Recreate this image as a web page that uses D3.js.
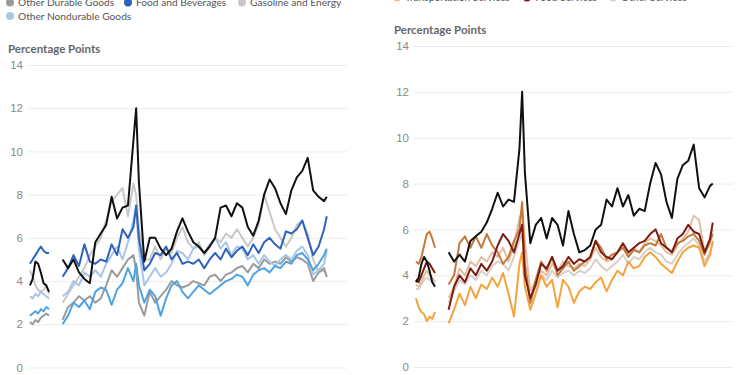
<!DOCTYPE html>
<html>
<head>
<meta charset="utf-8">
<script src="https://cdn.jsdelivr.net/npm/d3@7"></script>
<style>
  body { margin: 0; background: #fff; }
  svg { display: block; font-family: Lato, "Noto Sans", sans-serif; }
</style>
</head>
<body>
<div id="chart"></div>
<script>
// ---------------------------------------------------------------
// DATA (percentage points), weekly first stretch, then every 2 weeks
// ---------------------------------------------------------------
const dates = [
  "2020-06-28","2020-07-05","2020-07-12","2020-07-19","2020-07-26","2020-08-02","2020-08-09","2020-08-16",
  "2020-09-01",
  "2020-09-20","2020-10-04","2020-10-18","2020-11-01","2020-11-15","2020-11-29","2020-12-13","2020-12-27",
  "2021-01-10","2021-01-24","2021-02-07","2021-02-21","2021-03-07","2021-03-21","2021-03-28","2021-04-04",
  "2021-04-18","2021-05-02","2021-05-16","2021-05-30","2021-06-13","2021-06-27","2021-07-11","2021-07-25",
  "2021-08-08","2021-08-22","2021-09-05","2021-09-19","2021-10-03","2021-10-17","2021-10-31","2021-11-14",
  "2021-11-28","2021-12-12","2021-12-26","2022-01-09","2022-01-23","2022-02-06","2022-02-20","2022-03-06",
  "2022-03-20","2022-04-03","2022-04-17","2022-05-01","2022-05-15","2022-05-29","2022-06-12","2022-06-26",
  "2022-07-10","2022-07-24","2022-07-31"
]

// goods panel
const goods_total = [3.8,4.1,4.9,4.8,4.4,3.9,3.8,3.5, null,
  5.0,4.6,5.0,4.4,4.1,3.9,5.8,6.2,6.6,7.9,6.9,7.4,7.5,10.5,12.0,8.6,4.9,6.0,6.0,5.5,5.2,5.5,6.3,6.9,6.3,5.8,
  5.6,5.3,5.6,6.0,7.4,7.5,7.0,7.6,7.4,6.5,6.1,6.8,8.0,8.7,8.3,7.6,7.1,8.2,8.8,9.1,9.7,8.2,7.9,7.7,7.9]
const other_durable = [2.1,2.0,2.2,2.1,2.3,2.4,2.5,2.4, null,
  2.2,2.8,3.0,3.3,3.1,3.3,3.0,3.2,3.8,4.5,4.2,4.6,5.0,5.2,4.5,3.0,2.4,3.5,3.0,3.3,3.6,4.0,3.8,3.7,3.8,4.0,
  3.9,3.8,4.2,4.3,4.0,4.3,4.4,4.6,4.7,4.4,4.8,4.6,5.0,4.8,4.9,4.8,5.1,4.9,5.1,5.0,4.8,4.0,4.4,4.6,4.2]
const food_bev = [4.8,5.0,5.2,5.4,5.6,5.4,5.3,5.3, null,
  4.2,4.6,5.2,4.7,5.7,4.9,4.8,5.0,4.9,5.7,5.2,6.4,6.0,6.5,7.5,6.0,4.5,4.8,5.3,5.2,5.6,5.0,5.3,4.8,4.9,4.8,
  5.0,4.6,5.0,5.3,5.0,5.5,5.1,5.4,5.6,5.2,5.7,5.3,5.8,6.0,5.7,5.5,6.3,6.2,6.4,6.8,6.0,5.2,5.6,6.4,7.0]
const gas_energy = [4.5,4.2,3.8,3.6,3.5,3.6,3.8,3.4, null,
  3.0,3.4,3.8,4.2,4.6,5.2,5.6,6.0,6.8,7.7,8.0,8.3,7.0,8.5,8.0,6.5,5.0,5.0,5.6,5.0,5.5,5.3,6.0,6.5,5.8,5.5,
  5.8,5.2,5.6,6.0,5.8,6.2,6.0,6.4,6.0,5.6,6.0,6.6,8.0,7.2,6.4,6.0,5.6,6.0,6.6,6.8,6.2,5.0,4.4,4.5,4.2]
const other_nondurable = [3.3,3.2,3.4,3.3,3.5,3.4,3.3,3.2, null,
  3.3,3.5,4.0,3.8,4.4,4.2,4.5,4.2,4.8,5.2,5.6,5.0,5.8,6.8,7.4,5.5,3.8,4.2,4.6,4.2,4.4,4.8,5.4,5.3,5.0,5.5,
  5.6,5.3,5.7,6.0,5.5,5.8,5.2,5.6,5.5,5.0,5.2,4.8,5.2,4.9,4.7,5.0,5.2,5.0,5.4,5.6,5.2,4.3,4.5,4.8,5.4]
const vehicles = [2.4,2.5,2.6,2.5,2.7,2.6,2.8,2.7, null,
  2.0,2.4,3.0,2.8,3.1,2.7,3.5,3.7,3.6,2.9,3.6,3.9,4.6,4.0,4.8,3.8,3.0,3.6,3.3,2.4,3.2,3.8,4.0,3.5,3.2,3.5,
  3.8,3.6,3.4,3.6,3.8,4.0,4.1,4.3,4.2,3.8,4.3,4.5,4.6,4.4,4.7,4.6,4.9,4.8,5.2,5.3,5.0,4.5,4.8,5.2,5.5]

// services panel
const services_total = [3.7,3.9,4.5,4.8,4.6,4.2,3.7,3.5, null,
  5.0,4.6,4.9,4.6,5.5,5.7,5.9,6.3,6.9,7.6,7.0,7.3,7.2,9.5,12.0,8.5,5.4,6.2,6.5,5.6,6.5,6.2,5.3,6.8,5.8,5.0,
  5.1,5.3,6.0,6.2,7.3,7.0,7.8,7.0,7.5,6.6,6.9,6.8,8.0,8.9,8.4,7.2,6.5,8.2,8.8,9.0,9.7,7.8,7.4,7.9,8.0]
const housing = [4.6,4.5,4.8,5.3,5.8,5.9,5.6,5.2, null,
  3.6,4.0,5.4,5.7,5.2,5.7,5.2,5.8,5.3,5.0,4.5,4.8,5.5,6.0,7.2,4.5,2.8,3.8,4.6,4.2,4.8,4.0,4.3,4.6,4.2,4.4,
  4.6,4.8,5.5,5.2,4.7,4.9,5.0,5.2,4.8,5.1,5.0,5.3,5.4,5.3,5.8,5.2,5.0,5.4,5.5,5.7,5.8,5.5,4.9,5.5,5.8]
const food_services = [3.8,3.7,4.0,4.3,4.6,4.5,4.3,4.1, null,
  2.5,3.5,4.0,3.7,4.3,4.0,4.5,4.2,4.6,5.3,5.8,5.5,5.0,5.8,6.2,4.0,3.0,3.6,4.5,4.3,4.8,4.2,4.4,4.8,4.5,4.7,
  4.6,4.8,5.5,5.0,4.8,4.7,5.0,5.4,5.0,5.2,5.4,5.5,5.8,6.0,5.4,5.2,5.0,5.6,5.8,6.2,5.9,5.8,5.0,5.6,6.3]
const transport_services = [3.6,3.5,3.7,4.0,4.2,4.0,3.9,3.7, null,
  3.0,3.5,4.3,4.0,4.6,4.4,4.8,4.6,5.0,4.8,5.2,4.6,5.3,6.5,6.8,5.5,3.3,3.8,4.2,4.0,4.5,4.2,4.6,4.4,4.3,4.5,
  4.4,4.7,5.2,4.8,4.6,4.7,5.0,5.3,4.9,5.2,5.0,5.4,5.6,5.5,5.3,5.0,4.9,5.3,5.6,5.9,6.6,6.4,5.0,5.4,6.0]
const other_services = [3.4,3.4,3.6,3.8,3.9,3.8,3.7,3.6, null,
  2.8,3.3,3.8,3.6,4.0,3.8,4.2,4.0,4.4,4.6,4.5,4.2,4.8,5.5,5.8,4.5,2.8,3.5,4.0,3.8,4.2,3.9,4.1,4.2,4.0,4.2,
  4.1,4.3,4.7,4.4,4.2,4.4,4.6,4.9,4.5,4.8,4.7,5.0,5.2,5.0,4.9,4.6,4.5,4.9,5.2,5.4,5.6,5.3,4.6,5.0,5.4]
const medical = [3.0,2.6,2.4,2.3,2.0,2.2,2.1,2.4, null,
  1.9,2.5,3.2,2.7,3.5,3.0,3.6,3.4,3.9,3.5,4.1,3.2,2.2,4.5,5.0,3.5,2.5,3.2,4.0,3.5,3.8,2.6,3.8,3.5,2.8,3.3,
  3.5,3.4,3.7,3.9,3.3,3.8,4.2,4.0,4.6,4.3,4.4,4.8,5.0,4.8,4.5,4.3,4.1,4.6,5.0,5.2,5.3,5.2,4.4,4.9,5.5]

const tick_dates = ["2020-07-01","2021-01-01","2021-07-01","2022-01-01","2022-07-01"]
const tick_labels = ["July 2020","January 2021","July 2021","January 2022","July 2022"]
const y_ticks = [0, 2, 4, 6, 8, 10, 12, 14]

// series: [name, values, colour]  (drawn in this order)
const goods_series = [
  ["Gasoline and Energy", gas_energy, "#c8c8c8"],
  ["Other Durable Goods", other_durable, "#9b9b9b"],
  ["Other Nondurable Goods", other_nondurable, "#a8c5e8"],
  ["Motor Vehicles", vehicles, "#4ea3e6"],
  ["Food and Beverages", food_bev, "#2e63bd"],
  ["Goods", goods_total, "#111111"]
]
const services_series = [
  ["Other Services", other_services, "#d8d0c9"],
  ["Transportation Services", transport_services, "#e4c0a3"],
  ["Medical Services", medical, "#f5a33c"],
  ["Housing", housing, "#c47a3b"],
  ["Food Services", food_services, "#7c1d14"],
  ["Services", services_total, "#111111"]
]

// ---------------------------------------------------------------
var width = 750, height = 375
var parse = d3.utcParse("%Y-%m-%d")

var svg = d3.select("#chart").append("svg")
    .attr("width", width)
    .attr("height", height)

function drawPanel(p) {
  var x = d3.scaleUtc()
      .domain([parse("2020-06-23"), parse("2022-09-21")])
      .range([p.left, p.right])
  var y = d3.scaleLinear().domain([0, 14]).range([p.bottom, p.top])

  var g = svg.append("g")

  // horizontal grid
  g.append("g")
    .attr("transform", "translate(" + p.left + ",0)")
    .call(d3.axisLeft(y).tickValues(y_ticks).tickSize(-(p.right - p.left)).tickPadding(5))
    .call(a => a.select(".domain").remove())
    .call(a => a.selectAll("line").attr("stroke", "#ececec"))
    .call(a => a.selectAll("text").attr("fill", "#8a8a8a").style("font-size", "11.5px")
                .attr("font-family", null))

  // x labels (they sit mostly below the frame)
  g.append("g")
    .attr("transform", "translate(0," + p.bottom + ")")
    .call(d3.axisBottom(x).tickValues(tick_dates.map(parse))
            .tickFormat((d, i) => tick_labels[i]).tickSize(0).tickPadding(8.5))
    .call(a => a.select(".domain").remove())
    .call(a => a.selectAll("text").attr("fill", "#8a8a8a").style("font-size", "10.5px")
                .attr("font-family", null))

  // title
  g.append("text")
    .attr("x", p.titleX).attr("y", p.titleY)
    .attr("fill", "#666").style("font-size", "11.5px").style("font-weight", "bold")
    .text("Percentage Points")

  var line = d3.line()
      .defined(d => d[1] != null)
      .x(d => x(parse(d[0])))
      .y(d => y(d[1]))

  p.series.forEach(function(s) {
    g.append("path")
      .datum(dates.map((d, i) => [d, s[1][i]]))
      .attr("fill", "none")
      .attr("stroke", s[2])
      .attr("stroke-width", 2)
      .attr("stroke-linejoin", "round")
      .attr("d", line)
  })

  // legend (upper rows run off the picture)
  p.legend.forEach(function(l) {
    var s = p.series.find(d => d[0] == l[0])
    g.append("circle").attr("cx", l[1]).attr("cy", l[2] - 3.5).attr("r", 4).attr("fill", s[2])
    g.append("text").attr("x", l[1] + 8).attr("y", l[2])
      .attr("fill", "#555").style("font-size", "10.2px").text(l[0])
  })
}

drawPanel({
  left: 28, right: 347, top: 65, bottom: 367.5,
  titleX: 8, titleY: 53,
  series: goods_series,
  legend: [["Other Durable Goods", 10, 6], ["Food and Beverages", 128, 6],
           ["Gasoline and Energy", 242, 6], ["Other Nondurable Goods", 10, 19.5]]
})

drawPanel({
  left: 414, right: 733, top: 46, bottom: 367,
  titleX: 394, titleY: 34,
  series: services_series,
  legend: [["Transportation Services", 397, 1], ["Food Services", 527, 1],
           ["Other Services", 613, 1]]
})
</script>
</body>
</html>
